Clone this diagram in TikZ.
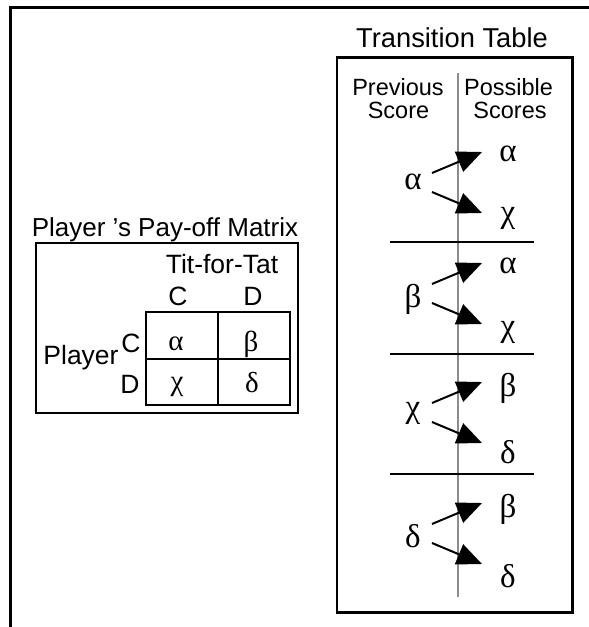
\documentclass[tikz,border=0pt]{standalone}
\usepackage{fontspec}
\setmainfont{Liberation Sans}
\newfontfamily\greekfont{Liberation Serif}
\usetikzlibrary{arrows.meta}
\begin{document}
\begin{tikzpicture}[x=1pt,y=-1pt,
  frame/.style={line width=2.6pt},
  lbl/.style={inner sep=0pt, anchor=base, font=\fontsize{26.5}{30}\selectfont},
  hdr/.style={inner sep=0pt, anchor=base, font=\fontsize{23.5}{27}\selectfont},
  gtab/.style={inner sep=0pt, font=\greekfont\fontsize{33}{36}\selectfont},
  gcell/.style={inner sep=0pt, font=\greekfont\fontsize{29}{32}\selectfont},
  trans/.style={line width=2pt, -{Triangle[length=25pt,width=21.5pt]}},
  sep/.style={line width=2.2pt},
  axis/.style={line width=2pt, draw=black!45},
]
\useasboundingbox (0,0) rectangle (589,627);

% outer frame (top and left edges)
\draw[line width=3pt] (10,630) -- (10,7) -- (592,7);

% ---------- pay-off matrix ----------
\node[lbl, font=\fontsize{26}{30}\selectfont] (ptitle) at (165,236.5) {Player ’s Pay-off Matrix};
\draw[frame] (36,243) rectangle (298,413);
\node[lbl] (tft) at (222,273) {Tit-for-Tat};
\node[lbl] (colC) at (178,305) {C};
\node[lbl] (colD) at (253,305) {D};
\node[lbl] (rowC) at (131,352) {C};
\node[lbl] (rowD) at (130,393) {D};
\node[lbl] (player) at (81,364) {Player};
\draw[frame] (146,312) rectangle (290,405);
\draw[frame] (218,312) -- (218,405);
\draw[frame] (146,359) -- (290,359);
\node[gcell] (mA) at (176,344) {α};
\node[gcell] (mB) at (251,344) {β};
\node[gcell] (mC) at (177,387) {χ};
\node[gcell] (mD) at (252,383) {δ};

% ---------- transition table ----------
\node[lbl, font=\fontsize{27.3}{30}\selectfont] (ttitle) at (452,47) {Transition Table};
\draw[frame] (337,57.5) rectangle (572.7,612.7);
\draw[axis] (458,73) -- (458,597);
\node[hdr] (prev1) at (398,95) {Previous};
\node[hdr] (prev2) at (398.5,118) {Score};
\node[hdr] (poss1) at (508.5,95) {Possible};
\node[hdr] (poss2) at (510,118) {Scores};

\foreach \y in {242,354,474}
  \draw[sep] (390,\y) -- (534,\y);

% one block per previous score: T = y of the upper arrow tip
\foreach \k/\T/\L/\Ly/\U/\Uy/\D/\Dy in {
    1/152/α/182/α/154/χ/218,
    2/263/β/299/α/266/χ/332,
    3/382/χ/413/β/388/δ/452,
    4/503/δ/536/β/509/δ/576} {
  \node[gtab] (prev\k) at (413,\Ly) {\L};
  \node[gtab] (up\k) at (508,\Uy) {\U};
  \node[gtab] (dn\k) at (508,\Dy) {\D};
  \coordinate (tu\k) at (432,\T+21);
  \coordinate (td\k) at (432,\T+40);
  \coordinate (hu\k) at (482,\T);
  \coordinate (hd\k) at (482,\T+61);
  \draw[trans] (tu\k) -- (hu\k);
  \draw[trans] (td\k) -- (hd\k);
}
\end{tikzpicture}
\end{document}
